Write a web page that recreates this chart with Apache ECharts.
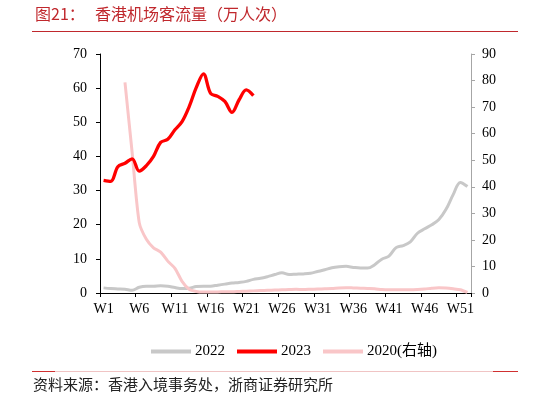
<!DOCTYPE html>
<html>
<head>
<meta charset="utf-8">
<script src="https://cdn.jsdelivr.net/npm/echarts@6/dist/echarts.min.js"></script>
<style>
html,body{margin:0;padding:0;background:#fff;}
#c{width:548px;height:403px;}
</style>
</head>
<body>
<div id="c"></div>
<script>
const weeks = ['W1','W2','W3','W4','W5','W6','W7','W8','W9','W10','W11','W12','W13','W14','W15','W16','W17','W18','W19','W20','W21','W22','W23','W24','W25','W26','W27','W28','W29','W30','W31','W32','W33','W34','W35','W36','W37','W38','W39','W40','W41','W42','W43','W44','W45','W46','W47','W48','W49','W50','W51','W52'];

const s2022 = [1.5,1.3,1.2,1.1,0.8,1.7,2.0,2.0,2.1,2.0,1.6,1.3,1.4,1.9,2.0,2.0,2.3,2.6,2.9,3.1,3.4,4.0,4.3,4.8,5.4,5.9,5.4,5.5,5.6,5.8,6.3,6.8,7.4,7.7,7.8,7.5,7.3,7.3,8.3,9.9,10.8,13.3,13.9,15.0,17.5,18.8,20.0,21.5,24.5,28.8,32.4,31.2];

const s2023 = [33.0,32.7,37.0,38.0,39.3,35.7,37.3,40.0,44.1,45.0,47.8,50.2,54.6,60.2,64.2,58.5,57.6,56.1,52.9,56.6,59.5,57.8];

const s2020 = [null,null,null,79.3,53.0,26.5,20.2,17.0,15.4,12.0,9.3,4.4,1.4,0.6,0.4,0.4,0.4,0.5,0.5,0.6,0.7,0.8,0.9,1.0,1.1,1.2,1.3,1.4,1.3,1.4,1.5,1.6,1.7,1.9,2.0,1.9,1.8,1.7,1.6,1.3,1.2,1.2,1.2,1.2,1.3,1.5,1.8,2.0,1.9,1.6,1.2,0.2];

const seriesNames = ['2022','2023','2020(右轴)'];
const titleText = '图21：';
const titleMain = '香港机场客流量（万人次）';
const sourceText = '资料来源：香港入境事务处，浙商证券研究所';

const serif = '"Liberation Serif","Times New Roman","Noto Sans CJK SC",serif';
const cjk = '"Noto Sans CJK SC","Liberation Serif",sans-serif';

const chart = echarts.init(document.getElementById('c'), null, {renderer:'canvas'});
chart.setOption({
  animation:false,
  backgroundColor:'#fff',
  grid:{left:100, right:77, top:54, bottom:110, containLabel:false},
  legend:{
    left:146, top:339, itemWidth:40, itemHeight:4, itemGap:12,
    icon:'rect',
    textStyle:{fontFamily:serif, fontSize:15, color:'#000', padding:[0,0,0,-1]},
    data:seriesNames
  },
  xAxis:{
    type:'category', data:weeks, boundaryGap:true,
    axisLine:{lineStyle:{color:'#000', width:1}},
    axisTick:{show:true, interval:4, length:4, lineStyle:{color:'#000'}},
    axisLabel:{interval:4, color:'#000', fontFamily:serif, fontSize:14, margin:9},
    splitLine:{show:false}
  },
  yAxis:[
    {type:'value', min:0, max:70, interval:10,
     axisLine:{show:true, lineStyle:{color:'#000'}},
     axisTick:{show:true, length:4, lineStyle:{color:'#000'}},
     axisLabel:{color:'#000', fontFamily:serif, fontSize:14, margin:13},
     splitLine:{show:false}},
    {type:'value', min:0, max:90, interval:10, position:'right',
     axisLine:{show:true, lineStyle:{color:'#a6a6a6'}},
     axisTick:{show:true, length:4, lineStyle:{color:'#a6a6a6'}},
     axisLabel:{color:'#000', fontFamily:serif, fontSize:14, margin:11},
     splitLine:{show:false}}
  ],
  series:[
    {name:seriesNames[0], type:'line', data:s2022, yAxisIndex:0, smooth:0.35, showSymbol:false, symbol:'none',
     lineStyle:{color:'#c8c8c8', width:3}, itemStyle:{color:'#c8c8c8'}, z:1},
    {name:seriesNames[1], type:'line', data:s2023, yAxisIndex:0, smooth:0.35, showSymbol:false, symbol:'none',
     lineStyle:{color:'#ff0000', width:3.3}, itemStyle:{color:'#ff0000'}, z:4},
    {name:seriesNames[2], type:'line', data:s2020, yAxisIndex:1, smooth:0.25, showSymbol:false, symbol:'none', connectNulls:false,
     lineStyle:{color:'#f9c6c8', width:3}, itemStyle:{color:'#f9c6c8'}, z:2}
  ],
  graphic:[
    {type:'text', left:35, top:6, style:{text:titleText, font:'16px '+cjk, fill:'#c0282d'}},
    {type:'text', left:95, top:6, style:{text:titleMain, font:'16px '+cjk, fill:'#c0282d'}},
    {type:'line', shape:{x1:32, y1:31.5, x2:518, y2:31.5}, style:{stroke:'#c0282d', lineWidth:1}},
    {type:'line', shape:{x1:32, y1:371.5, x2:518, y2:371.5}, style:{stroke:'#f0c4c4', lineWidth:1}},
    {type:'line', shape:{x1:32, y1:371.5, x2:55, y2:371.5}, style:{stroke:'#d03030', lineWidth:1}},
    {type:'line', shape:{x1:493, y1:371.5, x2:518, y2:371.5}, style:{stroke:'#d03030', lineWidth:1}},
    {type:'text', left:33, top:377, style:{text:sourceText, font:'15px '+cjk, fill:'#222'}}
  ]
});
</script>
</body>
</html>
